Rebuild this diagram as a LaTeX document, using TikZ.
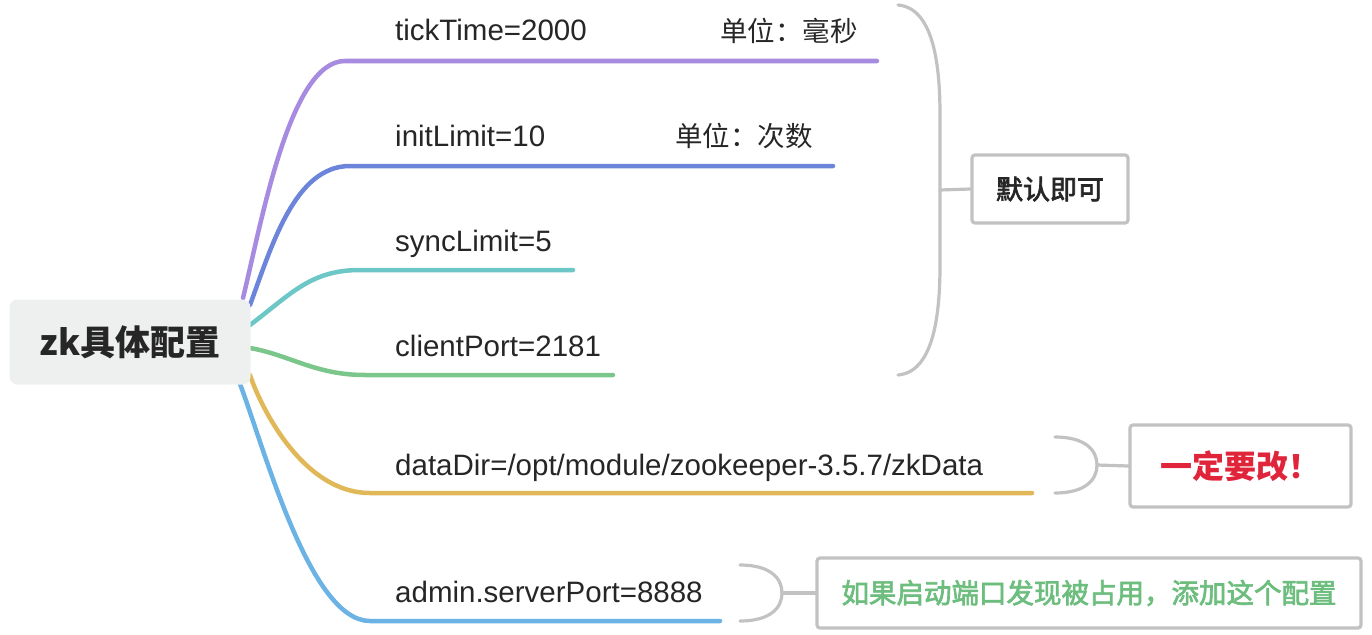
\documentclass[tikz,border=0pt]{standalone}
\usepackage{fontspec}
\setmainfont{Liberation Sans}
\newfontfamily\cjk{Noto Sans CJK SC}
\newfontfamily\cjkmed{Noto Sans CJK SC}[FakeBold=2.5]
\definecolor{cpurple}{HTML}{A78BE0}
\definecolor{cblue}{HTML}{6C84DA}
\definecolor{cteal}{HTML}{6DC7C6}
\definecolor{cgreen}{HTML}{7BC68A}
\definecolor{cgold}{HTML}{E1B857}
\definecolor{clblue}{HTML}{6BB3E4}
\definecolor{txt}{HTML}{262626}
\definecolor{brgray}{HTML}{C2C2C2}
\definecolor{rootgray}{HTML}{EEF0F0}
\definecolor{notered}{HTML}{E0243A}
\definecolor{notegreen}{HTML}{6DBE7E}
\begin{document}
\begin{tikzpicture}[x=1pt,y=-1pt,
  branch/.style={line width=4.5pt, line cap=round},
  lbl/.style={anchor=base west, inner sep=0pt, text=txt, font=\fontsize{29.5}{32}\selectfont},
  unit/.style={anchor=base west, inner sep=0pt, text=txt, font=\cjk\fontsize{27.5}{30}\selectfont},
  brace/.style={draw=brgray, line width=3.2pt, line cap=round},
  notebox/.style={draw=brgray, line width=3.2pt, rounded corners=3pt, fill=white, inner sep=0pt}]
\useasboundingbox (0,0) rectangle (1372,634);

% branch endpoints
\coordinate (s1) at (243,298);
\coordinate (s2) at (250,305);
\coordinate (s3) at (250,325);
\coordinate (s4) at (250,348);
\coordinate (s5) at (250,375);
\coordinate (s6) at (240,384);
\coordinate (e1) at (877,61);
\coordinate (e2) at (833,166);
\coordinate (e3) at (573,270);
\coordinate (e4) at (613,375);
\coordinate (e5) at (1032,493);
\coordinate (e6) at (720,621);

\draw[branch, cpurple] (s1) .. controls (262,220) and (290,61) .. (345,61) -- (e1);
\draw[branch, cblue] (s2) .. controls (272,245) and (295,166) .. (350,166) -- (e2);
\draw[branch, cteal] (s3) .. controls (290,295) and (310,270) .. (360,270) -- (e3);
\draw[branch, cgreen] (s4) .. controls (290,355) and (315,375) .. (365,375) -- (e4);
\draw[branch, cgold] (s5) .. controls (258,400) and (300,493) .. (370,493) -- (e5);
\draw[branch, clblue] (s6) .. controls (265,450) and (310,621) .. (370,621) -- (e6);

% root
\node[fill=rootgray, rounded corners=8pt, minimum width=241pt, minimum height=85pt, inner sep=0pt,
  text=txt, font=\cjk\bfseries\fontsize{35}{40}\selectfont] (root) at (130,342) {zk具体配置};

% labels
\node[lbl] (t1) at (395,41) {tickTime=2000};
\node[unit] (u1) at (720,41.5) {单位：毫秒};
\node[lbl] (t2) at (395,146) {initLimit=10};
\node[unit] (u2) at (675,146.5) {单位：次数};
\node[lbl] (t3) at (395,251) {syncLimit=5};
\node[lbl] (t4) at (395,356) {clientPort=2181};
\node[lbl] (t5) at (395,475) {dataDir=/opt/module/zookeeper-3.5.7/zkData};
\node[lbl] (t6) at (395,602) {admin.serverPort=8888};

% summary brace 1
\coordinate (b1top) at (898,5);
\coordinate (b1bot) at (898,375);
\coordinate (b1mid) at (940,190);
\draw[brace] (b1top) .. controls (932,8) and (940,60) .. (940,115) -- (940,265) .. controls (940,320) and (932,372) .. (b1bot);
\node[notebox, text=txt, minimum width=156pt, minimum height=68pt, font=\cjkmed\fontsize{27}{30}\selectfont] (n1) at (1050,189) {默认即可};
\draw[brace] (b1mid) -- (n1.west);

% summary brace 2
\coordinate (b2top) at (1055,437);
\coordinate (b2bot) at (1055,493);
\coordinate (b2mid) at (1097,465);
\draw[brace] (b2top) .. controls (1085,437) and (1097,450) .. (b2mid) .. controls (1097,480) and (1085,493) .. (b2bot);
\node[notebox, text=notered, minimum width=221pt, minimum height=82pt, font=\cjk\bfseries\fontsize{32}{36}\selectfont] (n2) at (1240.5,466) {一定要改！};
\draw[brace] (b2mid) -- (n2.west);

% summary brace 3
\coordinate (b3top) at (740,565);
\coordinate (b3bot) at (740,621);
\coordinate (b3mid) at (782,593);
\draw[brace] (b3top) .. controls (770,565) and (782,578) .. (b3mid) .. controls (782,608) and (770,621) .. (b3bot);
\node[notebox, text=notegreen, minimum width=544pt, minimum height=70pt, font=\cjkmed\fontsize{27.5}{30}\selectfont] (n3) at (1089,593) {如果启动端口发现被占用，添加这个配置};
\draw[brace] (b3mid) -- (n3.west);
\end{tikzpicture}
\end{document}
